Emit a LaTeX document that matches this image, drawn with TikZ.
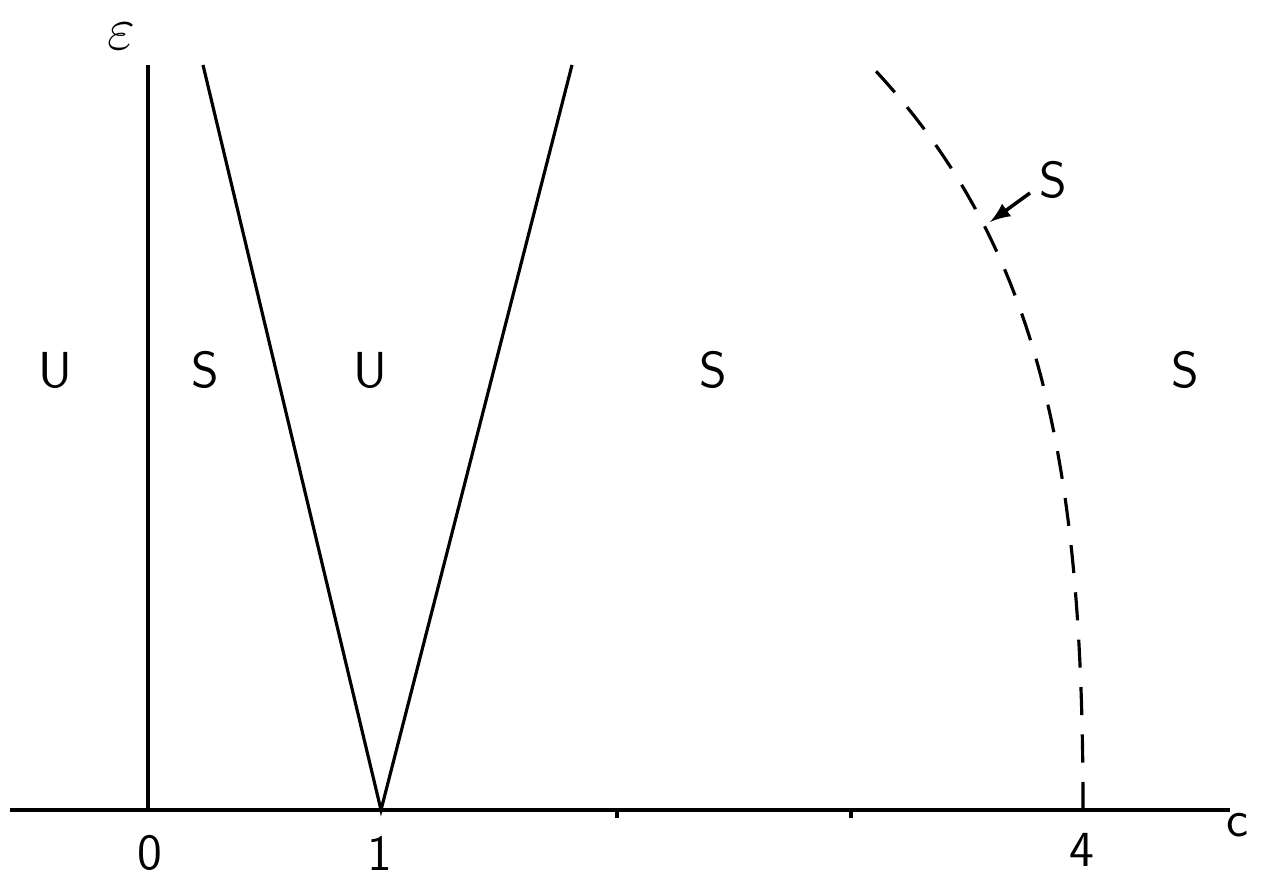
\documentclass[tikz,border=0pt]{standalone}
\usepackage{amsmath}
\usepackage{amssymb}
\usepackage{tikz}
\usetikzlibrary{arrows}
\usetikzlibrary{positioning}

\begin{document}
\begin{tikzpicture}[
    line width=0.9pt,
    region/.style={font=\sffamily\Large},
    ticklabel/.style={font=\sffamily\Large},
    boundary/.style={dash pattern=on 8pt off 5.5pt},
    arrow/.style={-latex,line width=1pt},
    ]
    \useasboundingbox (-1.48,-0.70) rectangle (11.23,8.10);

    % Axes
    \coordinate (origin) at (0,0);
    \coordinate (cleft) at (-1.38,0);
    \coordinate (cright) at (10.82,0);
    \coordinate (etop) at (0,7.45);
    \draw (cleft) -- (cright);
    \draw (origin) -- (etop);
    \node [inner sep=0pt] (elabel) at (-0.27,7.74) {\LARGE$\varepsilon$};
    \node [ticklabel] (clabel) at (10.89,-0.15) {c};

    % Tick marks
    \coordinate (two) at (4.69,0);
    \coordinate (three) at (7.03,0);
    \draw (two) -- ++(0,-0.08);
    \draw (three) -- ++(0,-0.08);
    \node [ticklabel] (zero) at (0.02,-0.43) {0};
    \node [ticklabel] (one) at (2.32,-0.43) {1};
    \node [ticklabel] (four) at (9.34,-0.40) {4};

    % V shaped wedge at c=1
    \coordinate (vtip) at (2.33,0);
    \coordinate (vleft) at (0.55,7.45);
    \coordinate (vright) at (4.24,7.45);
    \draw (vleft) -- (vtip) -- (vright);

    % Dashed boundary ending at c=4
    \coordinate (dbottom) at (9.35,0);
    \coordinate (dtop) at (7.25,7.42);
    \draw [boundary] (dbottom) .. controls (9.35,3.4) and (8.95,5.6) .. (dtop);

    % Region labels
    \node [region] (u1) at (-0.93,4.4) {U};
    \node [region] (s1) at (0.57,4.4) {S};
    \node [region] (u2) at (2.22,4.4) {U};
    \node [region] (s2) at (5.65,4.4) {S};
    \node [region] (s3) at (10.37,4.4) {S};

    % Label on the dashed curve
    \node [region] (scurve) at (9.05,6.3) {S};
    \coordinate (sfrom) at (8.82,6.17);
    \coordinate (shit) at (8.42,5.88);
    \draw [arrow] (sfrom) -- (shit);

\end{tikzpicture}
\end{document}
